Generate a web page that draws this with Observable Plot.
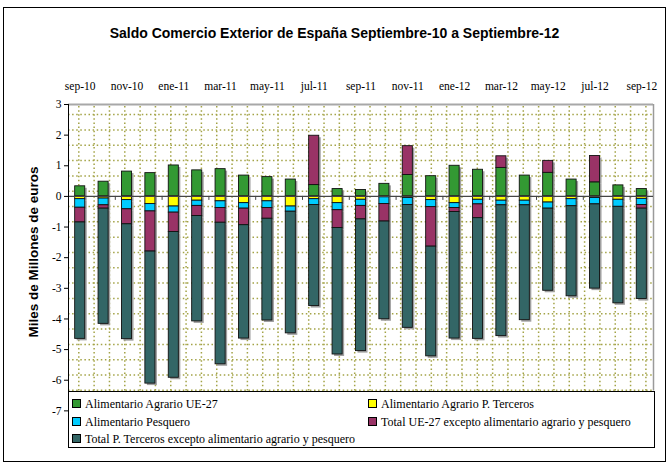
<!DOCTYPE html>
<html><head><meta charset="utf-8">
<script src="https://cdn.jsdelivr.net/npm/d3@7"></script>
<script src="https://cdn.jsdelivr.net/npm/@observablehq/plot@0.6"></script>
<style>
body{margin:0;background:#fff;}
#wrap{position:relative;width:669px;height:464px;overflow:hidden;font-family:"Liberation Serif","Times New Roman",serif;}
#chart{position:absolute;left:0;top:0;}
#frame{position:absolute;left:3px;top:7px;width:661px;height:453px;border:1px solid #000;pointer-events:none;}
#title{position:absolute;left:0;width:669px;top:25px;text-align:center;font:bold 14px "Liberation Sans",Arial,sans-serif;line-height:16px;}
#ytitle{position:absolute;left:33px;top:252px;transform:translate(-50%,-50%) rotate(-90deg);white-space:nowrap;font:bold 13.5px "Liberation Sans",Arial,sans-serif;}
#legend{position:absolute;left:68px;top:391px;width:587px;height:57px;background:#fff;border:1px solid #000;box-sizing:border-box;}
.item{position:absolute;font-size:12px;line-height:14px;white-space:nowrap;}
.sw{display:inline-block;width:7px;height:7px;border:1px solid #000;margin-right:4px;vertical-align:0px;}
</style></head>
<body>
<div id="wrap">
  <div id="chart"></div>
  <div id="title">Saldo Comercio Exterior de España Septiembre-10 a Septiembre-12</div>
  <div id="ytitle">Miles de Millones de euros</div>
  <div id="legend"></div>
  <div id="frame"></div>
</div>
<script>
const months = ["sep-10","oct-10","nov-10","dic-10","ene-11","feb-11","mar-11","abr-11","may-11","jun-11","jul-11","ago-11","sep-11","oct-11","nov-11","dic-11","ene-12","feb-12","mar-12","abr-12","may-12","jun-12","jul-12","ago-12","sep-12"];
const agrarioUE = [0.33,0.48,0.81,0.76,1.01,0.85,0.89,0.68,0.63,0.55,0.37,0.24,0.21,0.41,0.70,0.66,1.00,0.87,0.93,0.68,0.77,0.55,0.46,0.36,0.24];
const agrarioTerceros = [-0.09,-0.07,-0.12,-0.25,-0.33,-0.14,-0.16,-0.22,-0.16,-0.33,-0.09,-0.22,-0.11,-0.03,-0.05,-0.12,-0.22,-0.11,-0.14,-0.14,-0.20,-0.09,-0.05,-0.11,-0.08];
const pesquero = [-0.28,-0.22,-0.30,-0.24,-0.20,-0.17,-0.22,-0.18,-0.22,-0.17,-0.19,-0.23,-0.20,-0.22,-0.23,-0.23,-0.16,-0.15,-0.15,-0.15,-0.20,-0.23,-0.21,-0.23,-0.20];
const restoUE = [-0.48,-0.11,-0.49,-1.31,-0.63,-0.33,-0.48,-0.54,-0.35,0,1.61,-0.58,-0.44,-0.57,0.94,-1.29,-0.13,-0.45,0.38,0,0.39,0,0.86,0,-0.12];
const restoTerceros = [-3.80,-3.76,-3.75,-4.31,-4.76,-3.44,-4.62,-3.70,-3.32,-3.97,-3.30,-4.13,-4.30,-3.19,-4.01,-3.58,-4.13,-3.94,-4.27,-3.75,-2.68,-2.94,-2.75,-3.15,-2.95];
const seriesNames = ["Alimentario Agrario UE-27","Alimentario Agrario P. Terceros","Alimentario Pesquero","Total UE-27 excepto alimentario agrario y pesquero","Total P. Terceros excepto alimentario agrario y pesquero"];
const colors = ["#339933","#FFFF00","#00CCFF","#993366","#336666"];
const yTicks = [3,2,1,0,-1,-2,-3,-4,-5,-6,-7];

const seriesValues = [agrarioUE, agrarioTerceros, pesquero, restoUE, restoTerceros];
const segs = [];
months.forEach((m, i) => {
  let pos = 0, neg = 0;
  seriesValues.forEach((vals, s) => {
    const v = vals[i];
    if (!v) return;
    let y1, y2;
    if (v > 0) { y1 = pos; y2 = pos + v; pos = y2; }
    else { y1 = neg; y2 = neg + v; neg = y2; }
    segs.push({i, x1: i - 0.215, x2: i + 0.215, y1, y2, s: seriesNames[s]});
  });
});

const gridY = d3.range(0, 19).map(k => 2.67 - 0.5 * k);
const gridX = d3.range(0, 38).map(k => -0.06 + 0.655 * k).filter(x => x < 24.5);
const dot = {stroke: "#a3a346", strokeWidth: 1.5, strokeDasharray: "1.5,2.6"};

const chart = Plot.plot({
  width: 669, height: 464,
  marginLeft: 68, marginRight: 16, marginTop: 104, marginBottom: 23,
  style: {fontFamily: "Liberation Serif, serif", fontSize: "11px", background: "transparent", color: "#000", overflow: "visible"},
  x: {domain: [-0.5, 24.5]},
  y: {domain: [-8, 3]},
  color: {domain: seriesNames, range: colors},
  marks: [
    Plot.ruleY(gridY, {y: d => d, ...dot}),
    Plot.ruleX(gridX, {x: d => d, y1: -6.35, y2: 3, ...dot}),
    Plot.ruleY([3], {stroke: "#a8a8a8", strokeWidth: 2}),
    Plot.ruleX([24.5], {y1: -6.35, y2: 3, stroke: "#9a9a9a", strokeWidth: 1.5}),
    Plot.rect(segs, {x1: "x1", x2: "x2", y1: "y1", y2: "y2", fill: "#a0a0a0", dx: 2, dy: 2}),
    Plot.rect(segs, {x1: "x1", x2: "x2", y1: "y1", y2: "y2", fill: "s", stroke: "#111", strokeWidth: 0.9}),
    Plot.ruleY([0], {stroke: "#444", strokeWidth: 1.2}),
    Plot.ruleX(d3.range(1.5, 24, 2), {x: d => d, y1: 0, y2: -0.13, stroke: "#444"}),
    Plot.ruleX([-0.5], {y1: -8, y2: 3, stroke: "#000"}),
    Plot.axisY({ticks: yTicks, tickSize: 4, tickPadding: 3, tickFormat: d => String(d).replace("\u2212", "-"), label: null, fontSize: 11.5, fontFamily: "Liberation Serif"}),
    Plot.axisX({anchor: "top", ticks: d3.range(0, 25, 2), tickFormat: i => months[i], tickSize: 0, tickPadding: 15, label: null, fontSize: 11.5, fontFamily: "Liberation Serif"})
  ]
});
d3.select(chart).selectAll("text").style("font-family", "'Liberation Serif', serif");
document.getElementById("chart").appendChild(chart);

const legend = document.getElementById("legend");
const pos = [[3, 5], [299, 5], [3, 22.5], [299, 22.5], [3, 40]];
seriesNames.forEach((name, k) => {
  const it = document.createElement("div");
  it.className = "item";
  it.style.left = pos[k][0] + "px";
  it.style.top = pos[k][1] + "px";
  const sw = document.createElement("span");
  sw.className = "sw";
  sw.style.background = colors[k];
  it.appendChild(sw);
  it.appendChild(document.createTextNode(name));
  legend.appendChild(it);
});
</script>
</body></html>
